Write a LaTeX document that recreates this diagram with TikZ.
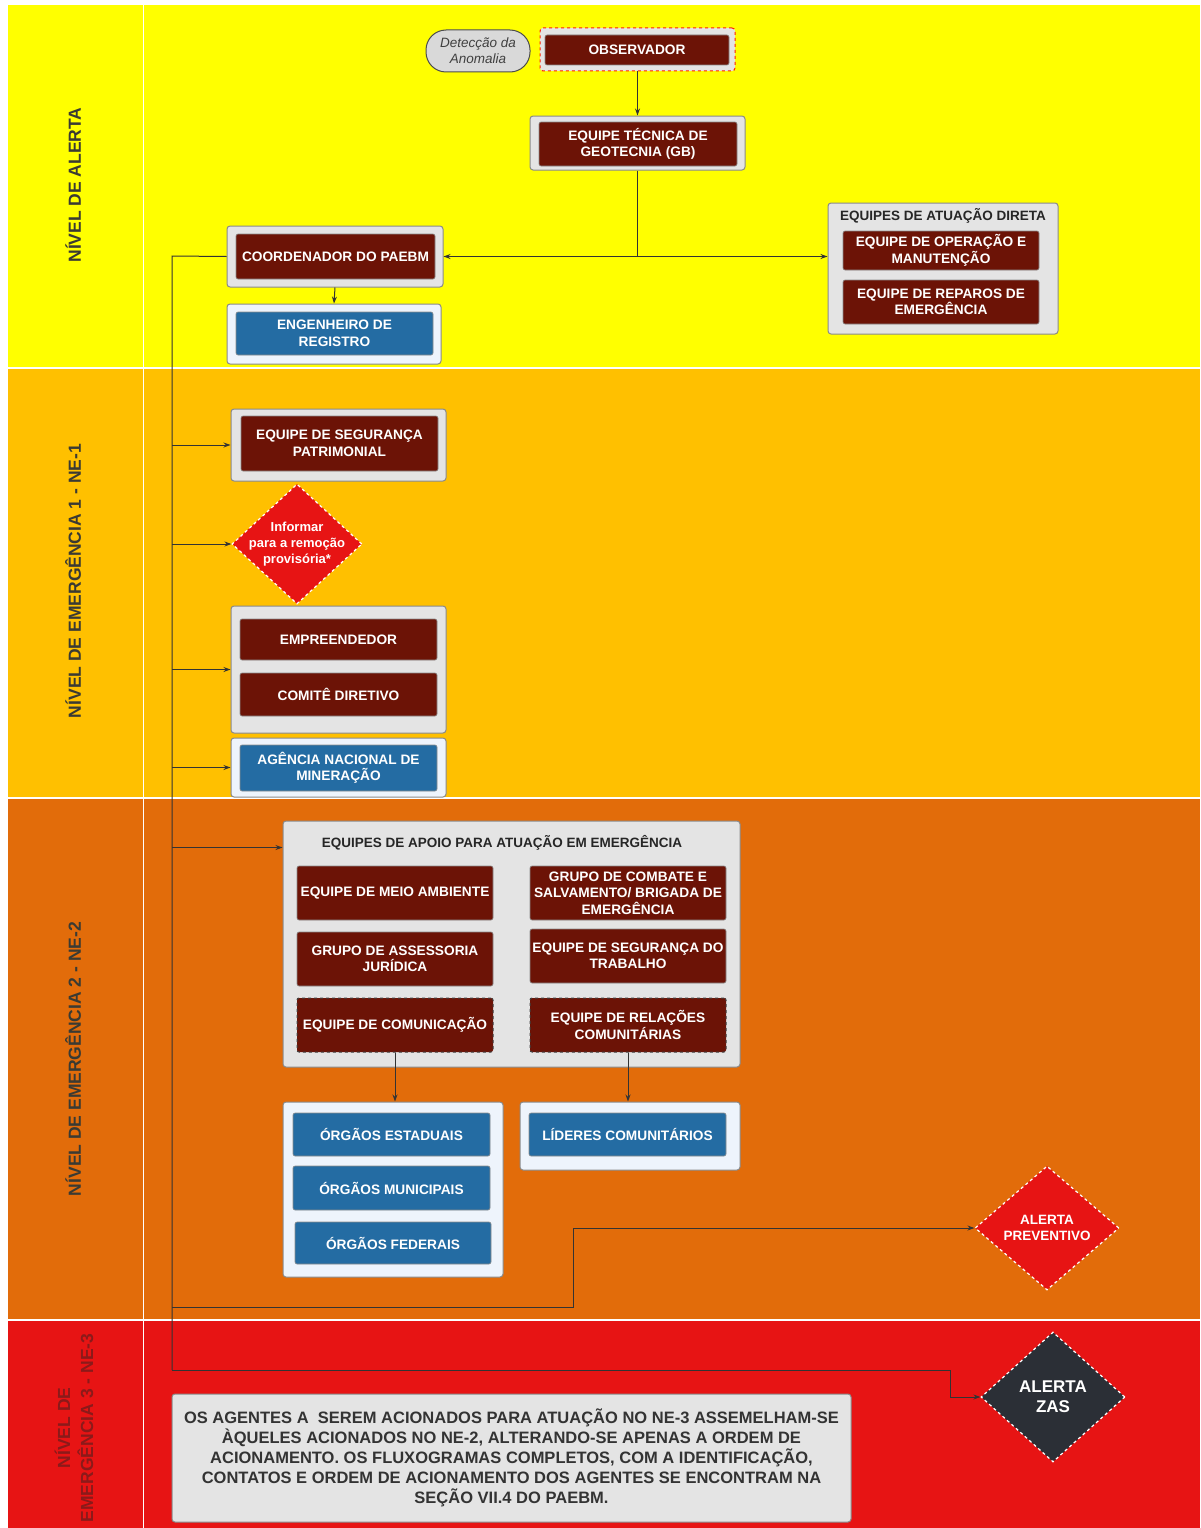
\documentclass[tikz,border=0pt]{standalone}
\usepackage{fontspec}
\setmainfont{Liberation Sans}
\usetikzlibrary{shapes.geometric,arrows.meta,calc}
\definecolor{bYel}{HTML}{FFFF00}
\definecolor{bAmb}{HTML}{FFC000}
\definecolor{bOra}{HTML}{E26C0A}
\definecolor{bRed}{HTML}{E71414}
\definecolor{dRed}{HTML}{6C1306}
\definecolor{dBlue}{HTML}{246CA3}
\definecolor{cGray}{HTML}{E4E4E4}
\definecolor{cBlue}{HTML}{EEF4FC}
\definecolor{cEdge}{HTML}{8A8A8A}
\definecolor{lnCol}{HTML}{333333}
\definecolor{zasCol}{HTML}{2B2F36}
\definecolor{lblCol}{HTML}{3A3A33}
\definecolor{lblRed}{HTML}{8B1A1A}
\newcommand\bxfont{\fontsize{13.7}{16.5}\selectfont\bfseries}
\begin{document}
\begin{tikzpicture}[x=1pt,y=-1pt,
  cont/.style={draw=cEdge,line width=1pt,fill=cGray,rounded corners=3pt,inner sep=0pt},
  contb/.style={cont,fill=cBlue},
  ibox/.style={fill=dRed,draw=black!45,line width=0.6pt,rounded corners=2pt,text=white,align=center,font=\bxfont,inner sep=0pt},
  bbox/.style={ibox,fill=dBlue},
  dbox/.style={ibox,draw=black!75,dashed,line width=1pt},
  dia/.style={diamond,draw=white,dashed,line width=1.2pt,fill=bRed,inner sep=0pt},
  dtext/.style={text=white,align=center,font=\fontsize{13}{16}\selectfont\bfseries},
  ttl/.style={text=black!85,font=\fontsize{13.5}{15}\selectfont\bfseries},
  lbl/.style={rotate=90,text=lblCol,font=\fontsize{17.5}{23}\selectfont\bfseries,align=center},
  line/.style={draw=lnCol,line width=1pt},
  arr/.style={line,-{Stealth[length=7pt,width=5pt]}}
]
\useasboundingbox (0,0) rectangle (1200,1528);
\fill[white] (0,0) rectangle (1200,1528);
% bands
\fill[bYel] (8,5) rectangle (1200,367);
\fill[bAmb] (8,369) rectangle (1200,797);
\fill[bOra] (8,799) rectangle (1200,1319);
\fill[bRed] (8,1321) rectangle (1200,1528);
\draw[white,line width=1.5pt] (143.5,5) -- (143.5,1528);
% level labels
\node[lbl] (lv0) at (73,185) {NÍVEL DE ALERTA};
\node[lbl] (lv1) at (73,581) {NÍVEL DE EMERGÊNCIA 1 - NE-1};
\node[lbl] (lv2) at (73,1059) {NÍVEL DE EMERGÊNCIA 2 - NE-2};
\node[lbl,text=lblRed] (lv3) at (74,1428) {NÍVEL DE\\EMERGÊNCIA 3 - NE-3};

% ---- Alerta
\node[draw=black!70,line width=1pt,fill=black!15,rounded corners=20pt,minimum width=104pt,minimum height=42pt,inner sep=0pt,
      align=center,text=black!75,font=\fontsize{13.5}{16}\selectfont\itshape] (anom) at (478,51) {Detecção da\\Anomalia};
\node[cont,draw=red!75!orange,dashed,minimum width=195pt,minimum height=43pt] (obsC) at (637.5,49.5) {};
\node[ibox,minimum width=184pt,minimum height=30pt] (obs) at (637,50) {OBSERVADOR};
\node[cont,minimum width=215pt,minimum height=54pt] (gtC) at (637.5,143) {};
\node[ibox,minimum width=198pt,minimum height=44pt] (gt) at (638,144) {EQUIPE TÉCNICA DE\\GEOTECNIA (GB)};
\node[cont,minimum width=216pt,minimum height=61pt] (coordC) at (335,256.5) {};
\node[ibox,minimum width=199pt,minimum height=45pt] (coord) at (335.5,256.5) {COORDENADOR DO PAEBM};
\node[contb,minimum width=214pt,minimum height=60pt] (engC) at (334,334) {};
\node[bbox,minimum width=197pt,minimum height=43pt] (eng) at (334.5,333.5) {ENGENHEIRO DE\\REGISTRO};
\node[cont,minimum width=230pt,minimum height=131pt] (dirC) at (943,268.5) {};
\node[ttl] (dirT) at (943,216) {EQUIPES DE ATUAÇÃO DIRETA};
\node[ibox,minimum width=196pt,minimum height=39pt] (op) at (941,250.5) {EQUIPE DE OPERAÇÃO E\\MANUTENÇÃO};
\node[ibox,minimum width=196pt,minimum height=44pt] (rep) at (941,302) {EQUIPE DE REPAROS DE\\EMERGÊNCIA};

% ---- NE-1
\node[cont,minimum width=215pt,minimum height=72pt] (segC) at (338.5,445) {};
\node[ibox,minimum width=197pt,minimum height=55pt] (seg) at (339.5,443.5) {EQUIPE DE SEGURANÇA\\PATRIMONIAL};
\node[dia,minimum width=130pt,minimum height=120pt] (inf) at (297,544) {};
\node[dtext] (infT) at (inf.center) {Informar\\para a remoção\\provisória*};
\node[cont,minimum width=215pt,minimum height=127pt] (empC) at (338.5,669.5) {};
\node[ibox,minimum width=197pt,minimum height=41pt] (emp) at (338.5,639.5) {EMPREENDEDOR};
\node[ibox,minimum width=197pt,minimum height=43pt] (cdir) at (338.5,694.5) {COMITÊ DIRETIVO};
\node[contb,minimum width=215pt,minimum height=59pt] (anmC) at (338.5,767.5) {};
\node[bbox,minimum width=197pt,minimum height=46pt] (anm) at (338.5,768) {AGÊNCIA NACIONAL DE\\MINERAÇÃO};

% ---- NE-2
\node[cont,minimum width=457pt,minimum height=246pt] (apC) at (511.5,944) {};
\node[ttl] (apT) at (502,843) {EQUIPES DE APOIO PARA ATUAÇÃO EM EMERGÊNCIA};
\node[ibox,minimum width=196pt,minimum height=54pt] (meio) at (395,893) {EQUIPE DE MEIO AMBIENTE};
\node[ibox,minimum width=196pt,minimum height=54pt] (jur) at (395,959) {GRUPO DE ASSESSORIA\\JURÍDICA};
\node[dbox,minimum width=196pt,minimum height=54pt] (comu) at (395,1025) {EQUIPE DE COMUNICAÇÃO};
\node[ibox,minimum width=196pt,minimum height=54pt] (comb) at (628,893) {GRUPO DE COMBATE E\\SALVAMENTO/ BRIGADA DE\\EMERGÊNCIA};
\node[ibox,minimum width=196pt,minimum height=54pt] (stra) at (628,956) {EQUIPE DE SEGURANÇA DO\\TRABALHO};
\node[dbox,minimum width=196pt,minimum height=54pt] (rel) at (628,1025) {EQUIPE DE RELAÇÕES\\COMUNITÁRIAS};
\node[contb,minimum width=220pt,minimum height=175pt] (orgC) at (393,1189.5) {};
\node[bbox,minimum width=197pt,minimum height=43pt] (est) at (391.5,1134.5) {ÓRGÃOS ESTADUAIS};
\node[bbox,minimum width=197pt,minimum height=44pt] (mun) at (391.5,1188) {ÓRGÃOS MUNICIPAIS};
\node[bbox,minimum width=196pt,minimum height=42pt] (fed) at (393,1243) {ÓRGÃOS FEDERAIS};
\node[contb,minimum width=220pt,minimum height=68pt] (lidC) at (630,1136) {};
\node[bbox,minimum width=197pt,minimum height=43pt] (lid) at (627.5,1134.5) {LÍDERES COMUNITÁRIOS};
\node[dia,minimum width=144pt,minimum height=124pt] (prev) at (1047,1228) {};
\node[dtext,font=\fontsize{13.5}{16}\selectfont\bfseries] (prevT) at (prev.center) {ALERTA\\PREVENTIVO};

% ---- NE-3
\node[dia,fill=zasCol,minimum width=144pt,minimum height=130pt] (zas) at (1053,1397) {};
\node[dtext,font=\fontsize{17}{20}\selectfont\bfseries] (zasT) at (zas.center) {ALERTA\\ZAS};
\node[cont,minimum width=679pt,minimum height=128pt,text=black!80,align=center,
      font=\fontsize{16.5}{20}\selectfont\bfseries] (note) at (511.5,1458)
 {OS AGENTES A \ SEREM ACIONADOS PARA ATUAÇÃO NO NE-3 ASSEMELHAM-SE\\
  ÀQUELES ACIONADOS NO NE-2, ALTERANDO-SE APENAS A ORDEM DE\\
  ACIONAMENTO. OS FLUXOGRAMAS COMPLETOS, COM A IDENTIFICAÇÃO,\\
  CONTATOS E ORDEM DE ACIONAMENTO DOS AGENTES SE ENCONTRAM NA\\
  SEÇÃO VII.4 DO PAEBM.};

% ---- connectors
\draw[arr] (obsC.south) -- (gtC.north);
\coordinate (split) at (gtC.south |- coordC.east);
\draw[line] (gtC.south) -- (split);
\draw[arr] (split) -- (coordC.east);
\draw[arr] (split) -- (dirC.west |- split);
\draw[arr] (coordC.south) -- (engC.north);
\coordinate (trunk) at (172,256);
\coordinate (pbend) at (573,1307);
\coordinate (zbend) at (950,1370);
\draw[line] (coordC.west) -- (trunk) -- (trunk |- zbend);
\draw[arr] (trunk |- segC.west) -- (segC.west);
\draw[arr] (trunk |- inf.west) -- (inf.west);
\draw[arr] (trunk |- empC.west) -- (empC.west);
\draw[arr] (trunk |- anmC.west) -- (anmC.west);
\coordinate (apIn) at ($(apC.north west)+(0,27)$);
\draw[arr] (trunk |- apIn) -- (apIn);
\draw[arr] (comu.south) -- (comu.south |- orgC.north);
\draw[arr] (rel.south) -- (rel.south |- lidC.north);
\draw[arr] (trunk |- pbend) -- (pbend) |- (prev.west);
\draw[arr] (trunk |- zbend) -- (zbend) |- (zas.west);
\end{tikzpicture}
\end{document}
